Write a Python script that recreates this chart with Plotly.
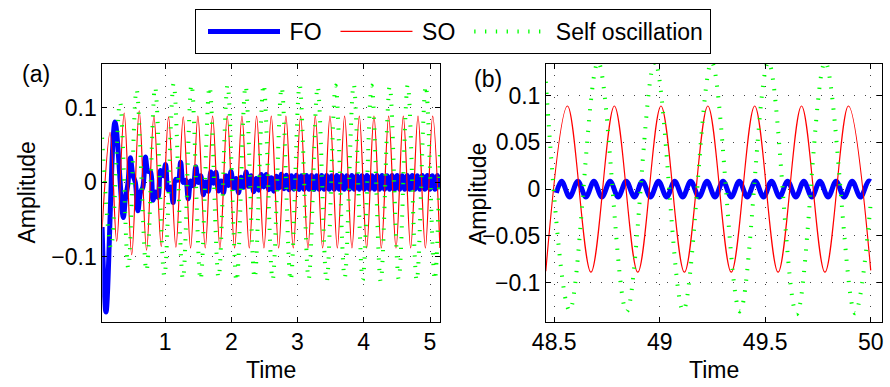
import plotly.graph_objects as go

FONT = "Liberation Sans, Arial, Helvetica, sans-serif"
FS = 23

# ---------------- Panel (a): 0 .. 5.15 s ----------------
# FO (blue) – extrema
fo_a_t = [0.050, 0.109, 0.245, 0.370,
          0.400, 0.438, 0.476, 0.514, 0.552, 0.590, 0.628, 0.666, 0.704, 0.742,
          0.780, 0.818, 0.856, 0.894, 0.932, 0.970, 1.008, 1.046, 1.084, 1.122,
          1.160, 1.198, 1.236, 1.274, 1.312, 1.350, 1.388, 1.426, 1.464, 1.502,
          1.540, 1.578, 1.616, 1.654, 1.692, 1.730, 1.768, 1.806, 1.844, 1.882,
          1.920, 1.958, 1.996, 2.034, 2.072, 2.110, 2.148, 2.186, 2.224, 2.262,
          2.300, 2.338, 2.376, 2.414, 2.452, 2.490, 2.528, 2.566, 2.604, 2.642,
          2.680, 2.718, 2.756, 2.794, 2.832, 2.870, 2.908, 2.946, 2.984, 3.022,
          3.060, 3.098, 3.136, 3.174, 3.212, 3.250, 3.288, 3.326, 3.364, 3.402,
          3.440, 3.478, 3.516, 3.554, 3.592, 3.630, 3.668, 3.706, 3.744, 3.782,
          3.820, 3.858, 3.896, 3.934, 3.972, 4.010, 4.048, 4.086, 4.124, 4.162,
          4.200, 4.238, 4.276, 4.314, 4.352, 4.390, 4.428, 4.466, 4.504, 4.542,
          4.580, 4.618, 4.656, 4.694, 4.732, 4.770, 4.808, 4.846, 4.884, 4.922,
          4.960, 4.998, 5.036, 5.074, 5.112, 5.150]
fo_a_y = [-0.060, -0.174, 0.081, -0.047,
          -0.023, -0.003, 0.033, 0.010, 0.000, -0.038, -0.014, -0.006, 0.034, 0.015,
          0.0145, -0.024, -0.013, -0.020, 0.016, 0.009, 0.024, -0.010, -0.006, -0.027,
          0.004, 0.003, 0.027, 0.000, 0.003, -0.022, 0.002, -0.0045, 0.021, 0.000,
          0.009, -0.0165, 0.0006, -0.012, 0.014, -0.001, 0.0136, -0.0115, 0.002, -0.014,
          0.009, -0.004, 0.0145, -0.0076, 0.0054, -0.014, 0.007, -0.0066, 0.014, -0.0053,
          0.009, -0.0124, 0.0052, -0.0104, 0.0106, -0.006, 0.0108, -0.0097, 0.0062, -0.0117,
          0.0082, -0.0077, 0.011, -0.0085, 0.0095, -0.0098, 0.0088, -0.0090, 0.0096, -0.0094,
          0.0090, -0.0092, 0.0094, -0.0090, 0.0092, -0.0094, 0.0090, -0.0092, 0.0093, -0.0091,
          0.0092, -0.0093, 0.0091, -0.0092, 0.0093, -0.0091, 0.0092, -0.0092, 0.0091, -0.0093,
          0.0092, -0.0091, 0.0093, -0.0092, 0.0091, -0.0092, 0.0093, -0.0092, 0.0091, -0.0093,
          0.0092, -0.0091, 0.0092, -0.0093, 0.0091, -0.0092, 0.0093, -0.0091, 0.0092, -0.0092,
          0.0091, -0.0093, 0.0092, -0.0091, 0.0093, -0.0092, 0.0091, -0.0092, 0.0093, -0.0091,
          0.0092, -0.0093, 0.0091, -0.0092, 0.0092, -0.0091]

# SO (red)
so_a_t = [0.050, 0.171, 0.270, 0.383, 0.497, 0.610, 0.721, 0.832, 0.943, 1.053,
          1.164, 1.275, 1.386, 1.496, 1.607, 1.718, 1.829, 1.939, 2.050, 2.161,
          2.272, 2.382, 2.493, 2.604, 2.715, 2.825, 2.936, 3.047, 3.158, 3.268,
          3.379, 3.490, 3.601, 3.711, 3.822, 3.933, 4.044, 4.154, 4.265, 4.376,
          4.487, 4.597, 4.708, 4.819, 4.930, 5.040, 5.150]
so_a_y = [-0.062, 0.067, -0.079, 0.093, -0.097, 0.096, -0.091, 0.089, -0.086, 0.088,
          -0.087, 0.088, -0.088, 0.089, -0.088, 0.089, -0.088, 0.089, -0.088, 0.089,
          -0.088, 0.089, -0.088, 0.089, -0.088, 0.089, -0.088, 0.089, -0.088, 0.089,
          -0.088, 0.089, -0.088, 0.089, -0.088, 0.089, -0.088, 0.089, -0.088, 0.089,
          -0.088, 0.089, -0.088, 0.089, -0.088, 0.089, -0.088]

# Self oscillation (green)
se_a_t = [0.050, 0.185, 0.320, 0.445, 0.570, 0.720, 0.850, 0.990, 1.130, 1.270,
          1.400, 1.536, 1.672, 1.808, 1.944, 2.080, 2.216, 2.352, 2.488, 2.624,
          2.760, 2.896, 3.032, 3.168, 3.304, 3.440, 3.576, 3.712, 3.848, 3.984,
          4.120, 4.256, 4.392, 4.528, 4.664, 4.800, 4.936, 5.072, 5.150]
se_a_y = [0.060, -0.088, 0.108, -0.115, 0.125, -0.119, 0.128, -0.126, 0.133, -0.130,
          0.132, -0.131, 0.129, -0.128, 0.131, -0.133, 0.130, -0.129, 0.132, -0.131,
          0.128, -0.132, 0.131, -0.130, 0.129, -0.133, 0.130, -0.128, 0.132, -0.131,
          0.130, -0.133, 0.129, -0.130, 0.131, -0.132, 0.130, -0.131, 0.040]

# ---------------- Panel (b): 48.46 .. 50 s ----------------
fo_b_t = [48.510, 48.535, 48.573, 48.612, 48.650, 48.688, 48.726, 48.765, 48.803, 48.841,
          48.880, 48.918, 48.956, 48.994, 49.033, 49.071, 49.109, 49.147, 49.186, 49.224,
          49.262, 49.300, 49.339, 49.377, 49.415, 49.453, 49.492, 49.530, 49.568, 49.606,
          49.645, 49.683, 49.721, 49.759, 49.798, 49.836, 49.874, 49.912, 49.951, 49.989,
          50.000]
fo_b_y = [-0.004, 0.0085, -0.0085, 0.0085, -0.0085, 0.0085, -0.0085, 0.0085, -0.0085, 0.0085,
          -0.0085, 0.0085, -0.0085, 0.0085, -0.0085, 0.0085, -0.0085, 0.0085, -0.0085, 0.0085,
          -0.0085, 0.0085, -0.0085, 0.0085, -0.0085, 0.0085, -0.0085, 0.0085, -0.0085, 0.0085,
          -0.0085, 0.0085, -0.0085, 0.0085, -0.0085, 0.0085, -0.0085, 0.0085, -0.0085, 0.0085,
          0.0080]

so_b_t = [48.460, 48.563, 48.674, 48.785, 48.896, 49.006, 49.117, 49.228, 49.339, 49.450,
          49.561, 49.672, 49.783, 49.894, 50.000]
so_b_y = [-0.088, 0.089, -0.089, 0.089, -0.089, 0.089, -0.089, 0.089, -0.089, 0.089,
          -0.089, 0.089, -0.089, 0.089, -0.087]

se_b_t = [48.460, 48.573, 48.708, 48.843, 48.977, 49.111, 49.246, 49.380, 49.515, 49.649,
          49.784, 49.925, 50.000]
se_b_y = [0.115, -0.130, 0.136, -0.131, 0.136, -0.130, 0.136, -0.131, 0.136, -0.134,
          0.136, -0.133, -0.015]

# ticks
a_xticks = [1, 2, 3, 4, 5]
a_yticks = [-0.1, 0, 0.1]
a_ytext = ["\u22120.1", "0", "0.1"]
b_xticks = [48.5, 49, 49.5, 50]
b_xtext = ["48.5", "49", "49.5", "50"]
b_yticks = [-0.1, -0.05, 0, 0.05, 0.1]
b_ytext = ["\u22120.1", "\u22120.05", "0", "0.05", "0.1"]

series_names = ["FO", "SO", "Self oscillation"]

W, H = 890, 387

def px_x(p):
    return p / W

def px_y(p):
    return 1 - p / H

def legend_label(s):
    # thin/hair spaces only pad the legend entry like the original figure
    return "\u2009" + s + "\u200a"

blue = dict(color="#0000ff", width=5, shape="spline")
red = dict(color="#ff0000", width=1.2, shape="spline")
green = dict(color="#00ff00", width=4, shape="spline", dash="1.3px,9.5px")

fig = go.Figure()
fig.add_trace(go.Scatter(x=fo_a_t, y=fo_a_y, mode="lines", line=blue,
                         name=legend_label(series_names[0]), xaxis="x", yaxis="y"))
fig.add_trace(go.Scatter(x=so_a_t, y=so_a_y, mode="lines", line=red,
                         name=legend_label(series_names[1]), xaxis="x", yaxis="y"))
fig.add_trace(go.Scatter(x=se_a_t, y=se_a_y, mode="lines", line=green,
                         name=legend_label(series_names[2]), xaxis="x", yaxis="y"))
fig.add_trace(go.Scatter(x=fo_b_t, y=fo_b_y, mode="lines", line=blue, name=series_names[0],
                         showlegend=False, xaxis="x2", yaxis="y2"))
fig.add_trace(go.Scatter(x=so_b_t, y=so_b_y, mode="lines", line=red, name=series_names[1],
                         showlegend=False, xaxis="x2", yaxis="y2"))
fig.add_trace(go.Scatter(x=se_b_t, y=se_b_y, mode="lines", line=green, name=series_names[2],
                         showlegend=False, xaxis="x2", yaxis="y2"))

axis_common = dict(
    showline=True, linecolor="black", linewidth=1, mirror="ticks",
    ticks="inside", ticklen=5, tickwidth=1, tickcolor="black",
    showgrid=True, gridcolor="#444444", gridwidth=1, griddash="1px,10px",
    zeroline=False, tickfont=dict(family=FONT, size=FS, color="black"),
    fixedrange=True, automargin=False,
)

ydom = [px_y(321.7), px_y(64)]

fig.update_layout(
    template="none",
    width=W, height=H,
    margin=dict(l=0, r=0, t=0, b=0, pad=0),
    paper_bgcolor="white", plot_bgcolor="white",
    font=dict(family=FONT, size=FS, color="black"),
    xaxis=dict(domain=[px_x(102.3), px_x(440)], range=[0.053, 5.151],
               tickmode="array", tickvals=a_xticks, anchor="y", **axis_common),
    yaxis=dict(domain=ydom, range=[-0.187, 0.159],
               tickmode="array", tickvals=a_yticks, ticktext=a_ytext, anchor="x", **axis_common),
    xaxis2=dict(domain=[px_x(546), px_x(881.7)], range=[48.461, 50.052],
                tickmode="array", tickvals=b_xticks, ticktext=b_xtext, anchor="y2", **axis_common),
    yaxis2=dict(domain=ydom, range=[-0.142, 0.134],
                tickmode="array", tickvals=b_yticks, ticktext=b_ytext, anchor="x2", **axis_common),
    legend=dict(orientation="h", x=px_x(195), y=px_y(9), xanchor="left", yanchor="top",
                bordercolor="black", borderwidth=1, bgcolor="white",
                font=dict(family=FONT, size=FS, color="black"), itemwidth=72,
                indentation=7),
    showlegend=True,
)

ann = [
    dict(text="(a)", x=px_x(36), y=px_y(74)),
    dict(text="(b)", x=px_x(488), y=px_y(79)),
    dict(text="Amplitude", x=px_x(26.5), y=px_y(193), textangle=-90),
    dict(text="Amplitude", x=px_x(478), y=px_y(194), textangle=-90),
    dict(text="Time", x=px_x(271.2), y=px_y(370)),
    dict(text="Time", x=px_x(714), y=px_y(370)),
]
for a in ann:
    fig.add_annotation(xref="paper", yref="paper", showarrow=False,
                       xanchor="center", yanchor="middle",
                       font=dict(family=FONT, size=FS, color="black"), **a)

fig.write_html("out.html")
